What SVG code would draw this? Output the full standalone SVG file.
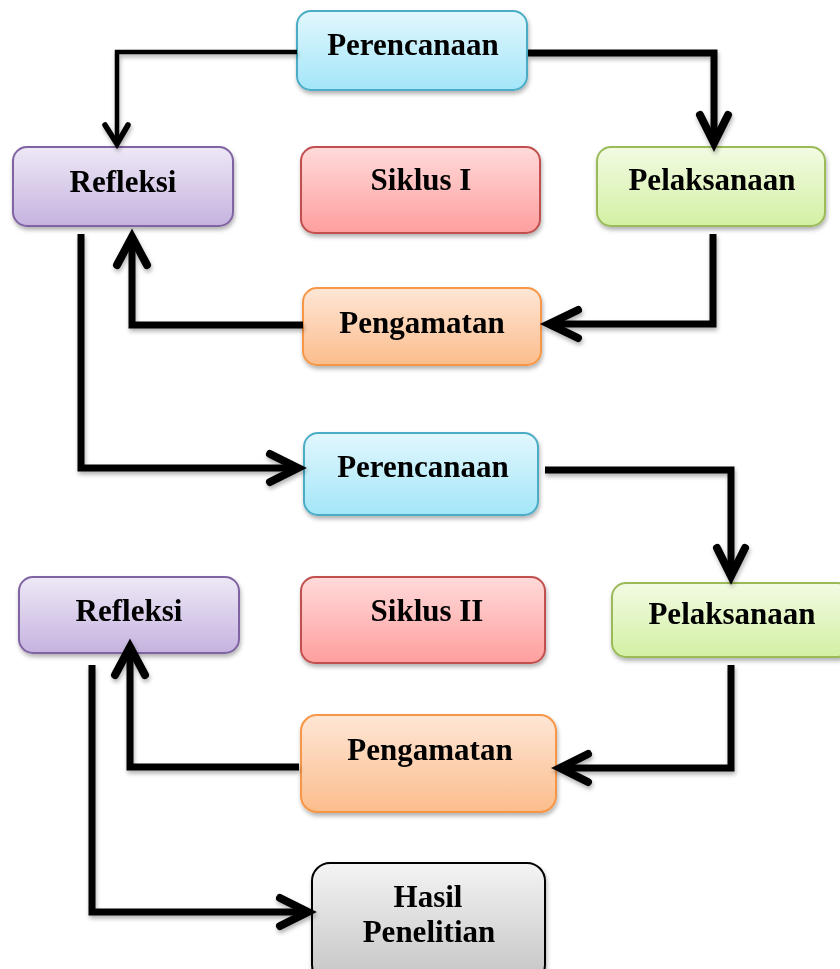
<svg xmlns="http://www.w3.org/2000/svg" width="840" height="969" viewBox="0 0 840 969">
<defs>
<linearGradient id="gBlue" x1="0" y1="0" x2="0" y2="1"><stop offset="0" stop-color="#e2f7fd"/><stop offset="1" stop-color="#a3e6f9"/></linearGradient>
<linearGradient id="gPurple" x1="0" y1="0" x2="0" y2="1"><stop offset="0" stop-color="#eee8f6"/><stop offset="1" stop-color="#c5b3df"/></linearGradient>
<linearGradient id="gRed" x1="0" y1="0" x2="0" y2="1"><stop offset="0" stop-color="#ffdada"/><stop offset="1" stop-color="#ff9e9e"/></linearGradient>
<linearGradient id="gGreen" x1="0" y1="0" x2="0" y2="1"><stop offset="0" stop-color="#f2fbe3"/><stop offset="1" stop-color="#d3f0a3"/></linearGradient>
<linearGradient id="gOrange" x1="0" y1="0" x2="0" y2="1"><stop offset="0" stop-color="#fee6d6"/><stop offset="1" stop-color="#fbbd8c"/></linearGradient>
<linearGradient id="gGray" x1="0" y1="0" x2="0" y2="1"><stop offset="0" stop-color="#f4f4f4"/><stop offset="1" stop-color="#c4c4c4"/></linearGradient>
<filter id="sh" x="-10%" y="-10%" width="125%" height="130%"><feDropShadow dx="1" dy="3" stdDeviation="2" flood-color="#000" flood-opacity="0.3"/></filter>
</defs>
<style>
.box{stroke-width:2}
.blue{fill:url(#gBlue);stroke:#4bacc6}
.purple{fill:url(#gPurple);stroke:#8064a2}
.red{fill:url(#gRed);stroke:#c0504d}
.green{fill:url(#gGreen);stroke:#9bbb59}
.orange{fill:url(#gOrange);stroke:#f79646}
.gray{fill:url(#gGray);stroke:#000}
.lbl{font-family:"Liberation Serif","Times New Roman",serif;font-weight:bold;font-size:31px;fill:#000;text-anchor:middle}
.ln{fill:none;stroke:#000;stroke-width:7;stroke-linejoin:miter}
.hd{fill:none;stroke:#000;stroke-width:8;stroke-linecap:round;stroke-linejoin:miter}
</style>
<g id="perencanaan1" filter="url(#sh)"><rect class="box blue" x="297" y="11" width="230" height="79" rx="14"/><text class="lbl" x="413" y="55">Perencanaan</text></g>
<g id="refleksi1" filter="url(#sh)"><rect class="box purple" x="13" y="147" width="220" height="79" rx="14"/><text class="lbl" x="123" y="192">Refleksi</text></g>
<g id="siklus1" filter="url(#sh)"><rect class="box red" x="301" y="147" width="239" height="86" rx="14"/><text class="lbl" x="421" y="190">Siklus I</text></g>
<g id="pelaksanaan1" filter="url(#sh)"><rect class="box green" x="597" y="147" width="228" height="79" rx="14"/><text class="lbl" x="712" y="190">Pelaksanaan</text></g>
<g id="pengamatan1" filter="url(#sh)"><rect class="box orange" x="303" y="288" width="238" height="77" rx="14"/><text class="lbl" x="422" y="333">Pengamatan</text></g>
<g id="perencanaan2" filter="url(#sh)"><rect class="box blue" x="304" y="433" width="234" height="82" rx="14"/><text class="lbl" x="423" y="477">Perencanaan</text></g>
<g id="refleksi2" filter="url(#sh)"><rect class="box purple" x="19" y="577" width="220" height="76" rx="14"/><text class="lbl" x="129" y="621">Refleksi</text></g>
<g id="siklus2" filter="url(#sh)"><rect class="box red" x="301" y="577" width="244" height="86" rx="14"/><text class="lbl" x="427" y="621">Siklus II</text></g>
<g id="pelaksanaan2" filter="url(#sh)"><rect class="box green" x="612" y="583" width="240" height="74" rx="14"/><text class="lbl" x="732" y="624">Pelaksanaan</text></g>
<g id="pengamatan2" filter="url(#sh)"><rect class="box orange" x="301" y="715" width="255" height="97" rx="16"/><text class="lbl" x="430" y="760">Pengamatan</text></g>
<g id="hasil" filter="url(#sh)"><rect class="box gray" x="312" y="863" width="233" height="120" rx="18"/><text class="lbl" x="428" y="907">Hasil</text><text class="lbl" x="429" y="942">Penelitian</text></g>
<g id="connectors" filter="url(#sh)">
<path class="ln" style="stroke-width:4.5" d="M297,52 H117 V143"/>
<path class="hd" style="stroke-width:5.5" d="M105,125 L117,144 L128,125"/>
<path class="ln" d="M528,53 H714 V143"/>
<path class="hd" d="M700,115 L714,143 L728,115"/>
<path class="ln" d="M713,234 V324 H550"/>
<path class="hd" d="M578,310 L549,324 L578,338"/>
<path class="ln" d="M303,325 H132 V238"/>
<path class="hd" d="M117,265 L132,237 L147,265"/>
<path class="ln" d="M81,234 V468 H298"/>
<path class="hd" d="M270,454 L298,468 L270,482"/>
<path class="ln" d="M545,470 H731 V575"/>
<path class="hd" d="M717,548 L731,576 L745,548"/>
<path class="ln" d="M731,665 V768 H560"/>
<path class="hd" d="M588,754 L560,768 L588,782"/>
<path class="ln" d="M299,767 H130 V648"/>
<path class="hd" d="M115,675 L130,647 L145,675"/>
<path class="ln" d="M92,665 V912 H308"/>
<path class="hd" d="M280,898 L308,912 L280,926"/>
</g>
</svg>
